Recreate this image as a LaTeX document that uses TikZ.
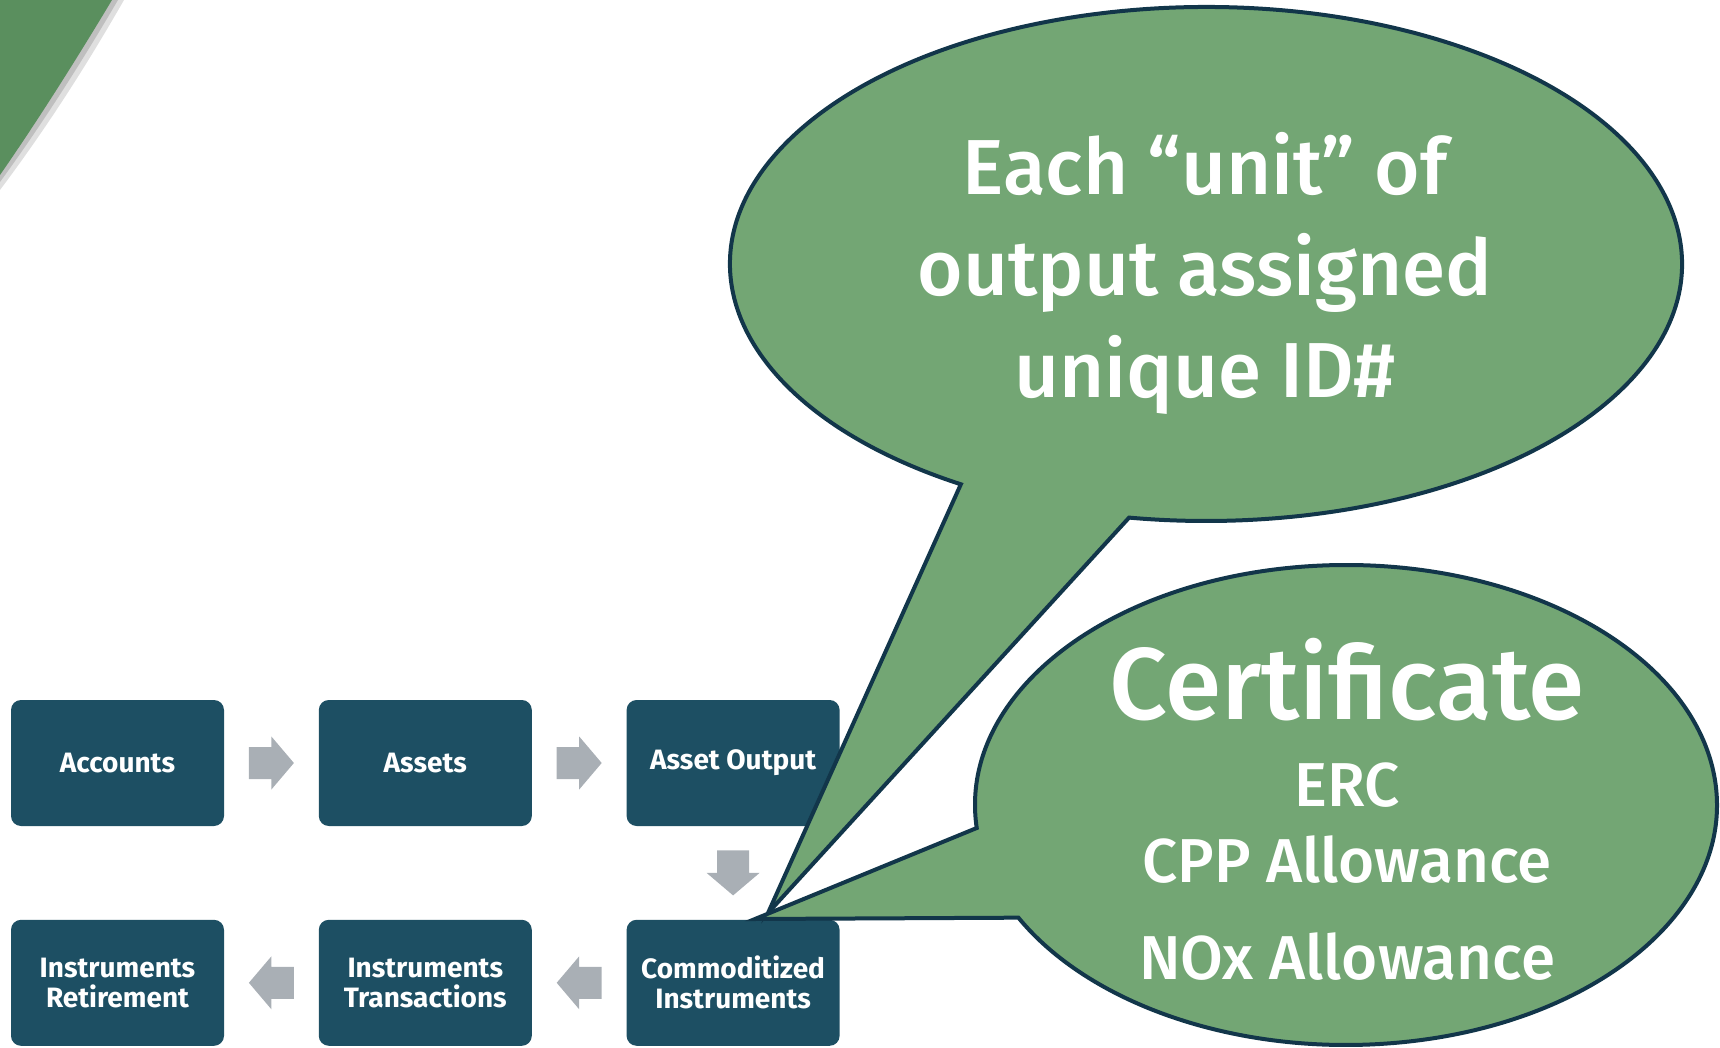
\documentclass[tikz,border=0pt]{standalone}
\usepackage{fontspec}
\setmainfont{Fira Sans}
\IfFontExistsTF{Fira Sans Medium}{\newfontfamily\bubblefont{Fira Sans Medium}}{\newfontfamily\bubblefont{Fira Sans}}
\usepackage{xcolor}
\usepackage{tikz}
\usetikzlibrary{positioning,calc}

\definecolor{boxblue}{HTML}{1D4F63}
\definecolor{bubblegreen}{HTML}{73A674}
\definecolor{bubbleline}{HTML}{12364A}
\definecolor{arrowgray}{HTML}{A9AFB5}
\definecolor{cornergreen}{HTML}{5A8F5E}

\tikzset{
    stagebox/.style={fill=boxblue, rounded corners=5pt, minimum width=106.5pt, minimum height=63pt,
        inner sep=0pt, text=white, align=center, font=\bfseries\fontsize{14}{15}\selectfont},
    bubble/.style={fill=bubblegreen, draw=bubbleline, line width=2pt},
    bubbletext/.style={text=white, anchor=base, inner sep=0pt},
    blockarrow/.pic={
        \fill[arrowgray] (-22.5,-16) -- (0,-16) -- (0,-26.5) -- (22.5,0) -- (0,26.5) -- (0,16) -- (-22.5,16) -- cycle;
    }
}

\begin{document}
\begin{tikzpicture}[x=0.5pt, y=-0.5pt]
    \useasboundingbox (0,0) rectangle (1720,1048);
    % Corner swoosh with its shadow
    \fill[gray!25] (0,0) -- (124,0) .. controls (97,47) and (57,114) .. (0,190) -- cycle;
    \fill[gray!50] (0,0) -- (118,0) .. controls (91,46) and (51,112) .. (0,182) -- cycle;
    \fill[cornergreen] (0,0) -- (112,0) .. controls (85,45) and (45,110) .. (0,175) -- cycle;

    % Stages
    \node[stagebox] (acc) at (117.5,763) {Accounts};
    \node[stagebox, right=47pt of acc] (ast) {Assets};
    \node[stagebox, right=47pt of ast] (out) {Asset Output};
    \node[stagebox, below=46.5pt of out] (com) {Commoditized\\Instruments};
    \node[stagebox, left=47pt of com] (trn) {Instruments\\Transactions};
    \node[stagebox, left=47pt of trn] (ret) {Instruments\\Retirement};

    % Gray arrows between stages
    \pic at ($(acc.east)!0.5!(ast.west)$) {blockarrow};
    \pic at ($(ast.east)!0.5!(out.west)$) {blockarrow};
    \pic[rotate=-90] at ($(out.south)!0.5!(com.north)$) {blockarrow};
    \pic[rotate=180] at ($(com.west)!0.5!(trn.east)$) {blockarrow};
    \pic[rotate=180] at ($(trn.west)!0.5!(ret.east)$) {blockarrow};

    % Speech bubbles
    \coordinate (cone) at (1206,264);
    \coordinate (ctwo) at (1346,805);
    \coordinate (tipa) at (768,913);
    \coordinate (tipb) at (755,919);
    \draw[bubble] (tipa) -- ([shift={(121:476 and 257)}]cone)
        arc[start angle=121, end angle=459.3, x radius=476, y radius=257] -- cycle;
    \draw[bubble] (tipb) -- ([shift={(174.5:371 and 240)}]ctwo)
        arc[start angle=174.5, end angle=512, x radius=371, y radius=240] -- cycle;

    % Bubble texts
    \node[bubbletext, font=\bubblefont\fontsize{39}{47}\selectfont] (unitA) at (1205,195) {Each “unit” of};
    \node[bubbletext, font=\bubblefont\fontsize{39}{47}\selectfont] (unitB) at (1205,296) {output assigned};
    \node[bubbletext, font=\bubblefont\fontsize{39}{47}\selectfont] (unitC) at (1205,398) {unique ID\#};
    \node[bubbletext, font=\bubblefont\fontsize{51}{60}\selectfont] (cert) at (1347,719) {Certificate};
    \node[bubbletext, font=\bubblefont\fontsize{31}{37}\selectfont] (erc) at (1347,806) {ERC};
    \node[bubbletext, font=\bubblefont\fontsize{31}{37}\selectfont] (cpp) at (1347,882) {CPP Allowance};
    \node[bubbletext, font=\bubblefont\fontsize{31}{37}\selectfont] (nox) at (1347,979) {NOx Allowance};
\end{tikzpicture}
\end{document}
